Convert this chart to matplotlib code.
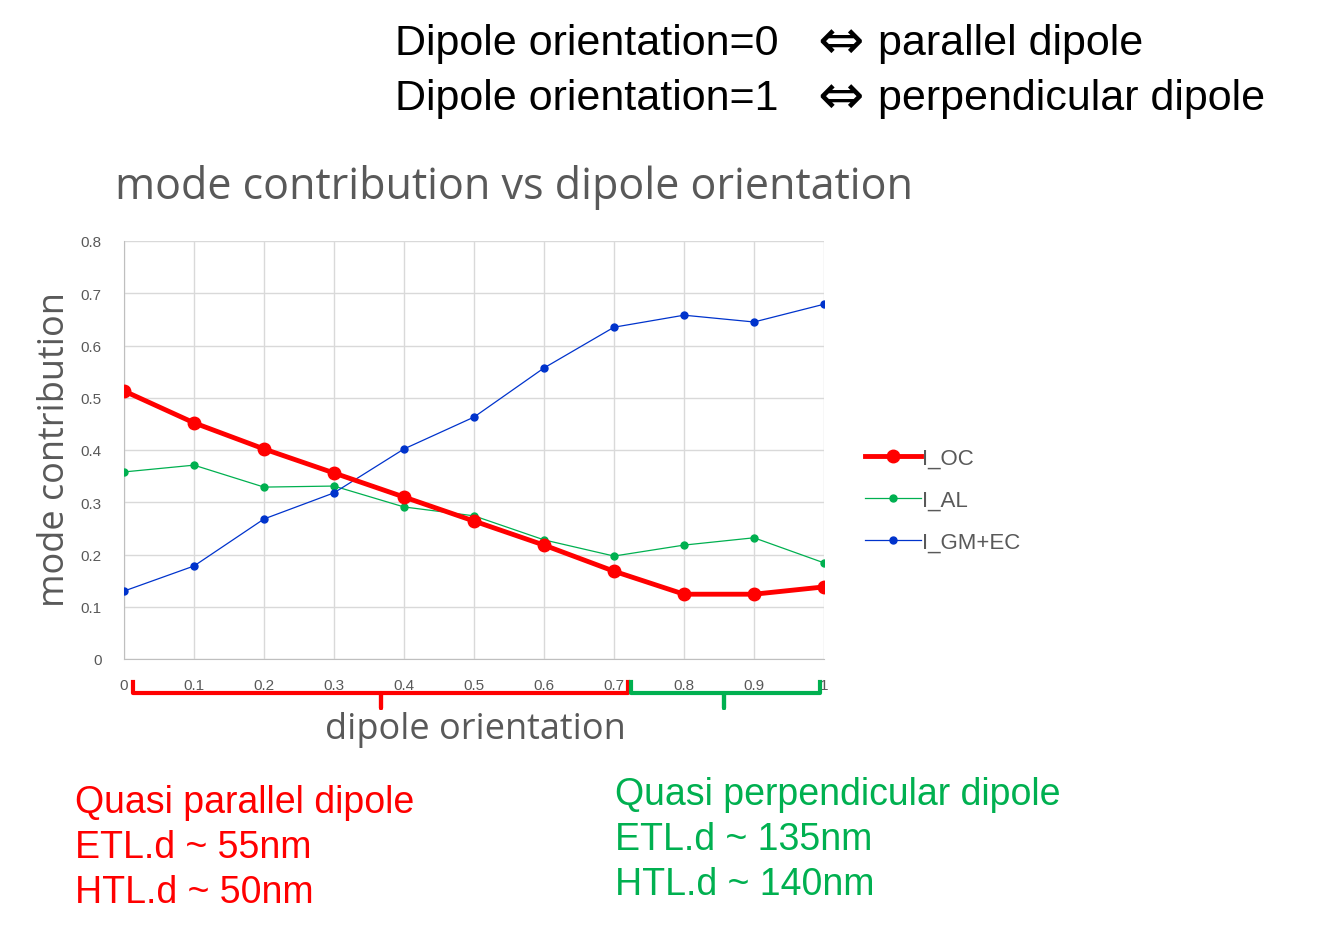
import matplotlib
matplotlib.use("Agg")
import matplotlib.pyplot as plt

plt.rcParams["font.family"] = ["Liberation Sans", "DejaVu Sans"]

orientation = [0, 0.1, 0.2, 0.3, 0.4, 0.5, 0.6, 0.7, 0.8, 0.9, 1.0]
i_oc = [0.513, 0.452, 0.402, 0.356, 0.310, 0.264, 0.218, 0.168, 0.124, 0.124, 0.138]
i_al = [0.358, 0.371, 0.329, 0.331, 0.291, 0.274, 0.228, 0.197, 0.218, 0.232, 0.184]
i_gm = [0.130, 0.178, 0.268, 0.318, 0.402, 0.463, 0.557, 0.635, 0.658, 0.645, 0.679]
xticks = [0, 0.1, 0.2, 0.3, 0.4, 0.5, 0.6, 0.7, 0.8, 0.9, 1]
xticklabels = ["0", "0.1", "0.2", "0.3", "0.4", "0.5", "0.6", "0.7", "0.8", "0.9", "1"]
yticks = [0, 0.1, 0.2, 0.3, 0.4, 0.5, 0.6, 0.7, 0.8]
yticklabels = ["0", "0.1", "0.2", "0.3", "0.4", "0.5", "0.6", "0.7", "0.8"]

W, H = 1331, 937
fig = plt.figure(figsize=(W / 100, H / 100), dpi=100)
ax = fig.add_axes([124 / W, 1 - 660 / H, 700 / W, 418 / H])

ax.plot(orientation, i_oc, "-o", color="#ff0000", lw=3.5, ms=9, label="I_OC", zorder=4)
ax.plot(orientation, i_al, "-o", color="#00b050", lw=0.9, ms=5, label="I_AL", zorder=3)
ax.plot(orientation, i_gm, "-o", color="#0033cc", lw=0.9, ms=5, label="I_GM+EC", zorder=3)

ax.set_xlim(0, 1)
ax.set_ylim(0, 0.8)
ax.set_xticks(xticks)
ax.set_xticklabels(xticklabels, fontsize=11, color="#595959")
ax.set_yticks(yticks)
ax.set_yticklabels(yticklabels, fontsize=11, color="#595959")
ax.tick_params(axis="y", length=0, pad=16)
ax.tick_params(axis="x", length=0, pad=14)
ax.grid(color="#d9d9d9", lw=1)
for s in ["top", "right"]:
    ax.spines[s].set_visible(False)
for s in ["left", "bottom"]:
    ax.spines[s].set_color("#bfbfbf")
ax.set_axisbelow(True)

ax.legend(loc="center left", bbox_to_anchor=(1.03, 0.38), frameon=False,
          fontsize=16, handlelength=2.5, labelspacing=0.95, handletextpad=0.05,
          labelcolor="#595959")

fig.text(115 / W, 1 - 188 / H, "mode contribution vs dipole orientation",
         fontsize=31, color="#595959", family="Open Sans", va="center")
fig.text(55 / W, 1 - 450 / H, "mode contribution", rotation=90, fontsize=26,
         color="#595959", family="Open Sans", ha="center", va="center")
fig.text(475 / W, 1 - 730 / H, "dipole orientation", fontsize=26,
         color="#595959", family="Open Sans", ha="center", va="center")

top_left = ["Dipole orientation=0", "Dipole orientation=1"]
top_right = ["parallel dipole", "perpendicular dipole"]
for i in range(2):
    y = 1 - (44 + 55 * i) / H
    fig.text(395 / W, y, top_left[i], fontsize=31, va="center")
    fig.text(840 / W, y, "\u21d4", fontsize=40, va="center", ha="center",
             family="DejaVu Sans")
    fig.text(878 / W, y, top_right[i], fontsize=31, va="center")

for i, t in enumerate(["Quasi parallel dipole", "ETL.d ~ 55nm", "HTL.d ~ 50nm"]):
    fig.text(75 / W, 1 - (803 + 45 * i) / H, t, fontsize=27, color="#ff0000", va="center")
for i, t in enumerate(["Quasi perpendicular dipole", "ETL.d ~ 135nm", "HTL.d ~ 140nm"]):
    fig.text(615 / W, 1 - (795 + 45 * i) / H, t, fontsize=27, color="#00b050", va="center")

def brace(x0, x1, xm, color):
    y0, y1, y2 = 683, 694, 709
    xs = [x0, x0, xm, xm, xm, x1, x1]
    ys = [y0, y1, y1, y2, y1, y1, y0]
    fig.add_artist(plt.Line2D([x / W for x in xs], [1 - y / H for y in ys],
                              color=color, lw=3, solid_joinstyle="round"))

brace(133, 628, 381, "#ff0000")
brace(631, 820, 724, "#00b050")

fig.savefig("out.png", dpi=100)
